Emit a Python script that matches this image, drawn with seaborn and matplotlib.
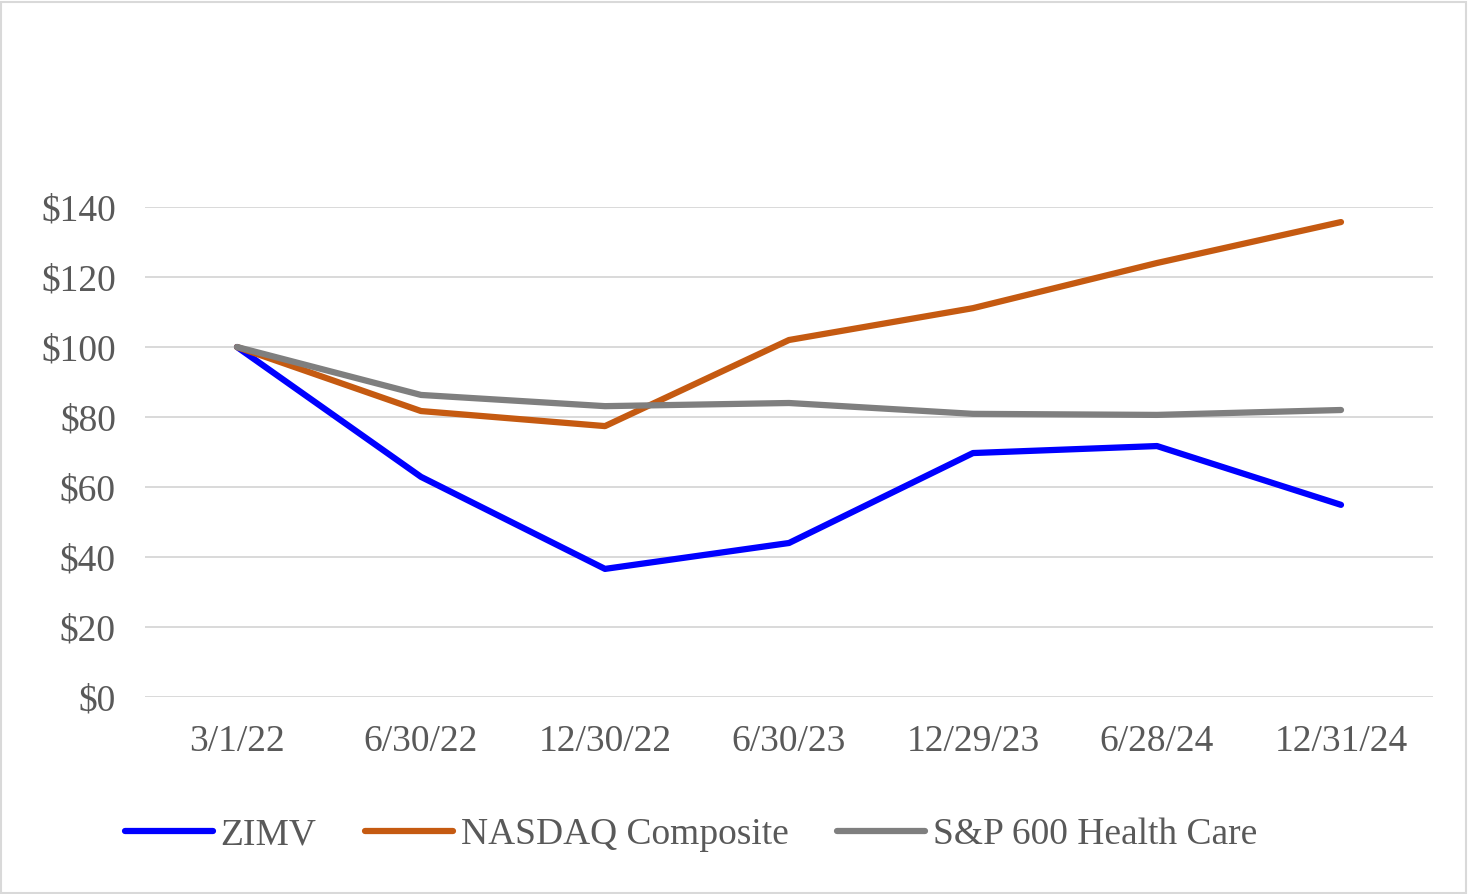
import matplotlib
matplotlib.use('Agg')
import matplotlib.pyplot as plt
from matplotlib.patches import Rectangle
import pandas as pd
import seaborn as sns

dates = ['3/1/22', '6/30/22', '12/30/22', '6/30/23', '12/29/23', '6/28/24', '12/31/24']
zimv = [100, 62.9, 36.6, 44.0, 69.7, 71.7, 54.9]
nasdaq = [100, 81.7, 77.4, 102.0, 111.1, 124.0, 135.7]
sp600_hc = [100, 86.3, 83.1, 84.0, 80.9, 80.6, 82.0]
series_names = ['ZIMV', 'NASDAQ Composite', 'S&P 600 Health Care']
colors = ['#0000FF', '#C55A11', '#7F7F7F']
y_ticks = [0, 20, 40, 60, 80, 100, 120, 140]

rows = []
for name, vals in zip(series_names, [zimv, nasdaq, sp600_hc]):
    for i, (d, v) in enumerate(zip(dates, vals)):
        rows.append({'pos': i, 'date': d, 'value': v, 'series': name})
df = pd.DataFrame(rows)

sns.set_style('white')
plt.rcParams['font.family'] = ['Liberation Serif', 'DejaVu Serif']
text_color = '#595959'
fs = 27

fig = plt.figure(figsize=(14.69, 8.94), dpi=100)
ax = fig.add_axes([145 / 1469, 1 - 697 / 894, (1433 - 145) / 1469, (697 - 207) / 894])

sns.lineplot(data=df, x='pos', y='value', hue='series', palette=colors,
             hue_order=series_names, linewidth=4.5, ax=ax, legend=False,
             solid_capstyle='round', clip_on=False, zorder=3)

ax.set_xlim(-0.5, 6.5)
ax.set_ylim(0, 140)
ax.set_yticks(y_ticks)
ax.set_yticklabels([f'${t}' for t in y_ticks])
ax.set_xticks(range(len(dates)))
ax.set_xticklabels(dates)
ax.grid(axis='y', color='#D9D9D9', linewidth=1.4)
ax.set_axisbelow(True)
for s in ax.spines.values():
    s.set_visible(False)
ax.set_xlabel('')
ax.set_ylabel('')
ax.tick_params(axis='both', length=0, labelsize=fs, labelcolor=text_color)
ax.tick_params(axis='y', pad=21)
ax.tick_params(axis='x', pad=20)

handles = [plt.Line2D([], [], color=c, linewidth=4.5, solid_capstyle='round') for c in colors]
leg = fig.legend(handles, series_names, loc='center', bbox_to_anchor=(691 / 1469, 1 - 835 / 894),
                 ncol=3, frameon=False, fontsize=fs, handlelength=2.35, handletextpad=0.2,
                 columnspacing=1.3)
for t in leg.get_texts():
    t.set_color(text_color)

fig.patches.append(Rectangle((0.001, 0.001), 0.997, 0.997, transform=fig.transFigure,
                             fill=False, edgecolor='#D9D9D9', linewidth=1.5))

fig.savefig('out.png', dpi=100)
